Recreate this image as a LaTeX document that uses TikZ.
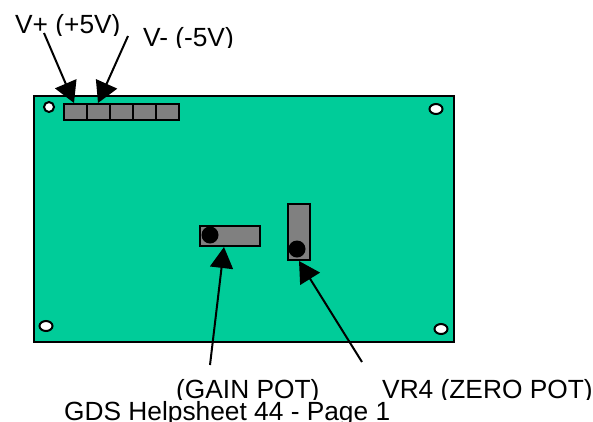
\documentclass[tikz,border=0pt]{standalone}
\usepackage{fontspec}
\setmainfont{Liberation Sans}
\usetikzlibrary{arrows.meta,shapes.geometric}
\definecolor{board}{RGB}{0,204,153}
\definecolor{potgray}{RGB}{128,128,128}
\tikzset{
  x=1pt,y=-1pt,
  outline/.style={draw=black,line width=2pt},
  boardbox/.style={outline,fill=board,minimum width=420pt,minimum height=246pt,inner sep=0pt},
  cell/.style={outline,fill=potgray,minimum width=23pt,minimum height=16pt,inner sep=0pt},
  potbox/.style={outline,fill=potgray,inner sep=0pt},
  wiper/.style={fill=black,circle,minimum size=17pt,inner sep=0pt},
  hole/.style={outline,fill=white,ellipse,inner sep=0pt},
  lbl/.style={anchor=base west,inner sep=0pt,font=\fontsize{26.3pt}{28pt}\selectfont},
  pointer/.style={line width=2pt,-{Triangle[length=21pt,width=23pt]},shorten >=0pt}
}
\begin{document}
\begin{tikzpicture}
\useasboundingbox (0,0) rectangle (593,421);
\node[boardbox] (pcb) at (244,219) {};
\node[hole,minimum width=10pt,minimum height=10pt] (h1) at (49,107) {};
\node[hole,minimum width=13pt,minimum height=10pt] (h2) at (436,109) {};
\node[hole,minimum width=13pt,minimum height=10pt] (h3) at (46,326) {};
\node[hole,minimum width=13pt,minimum height=10pt] (h4) at (441,329) {};
\foreach \i/\cx in {1/75.5,2/98.5,3/121,4/144,5/167}{
  \node[cell] (c\i) at (\cx,112) {};
}
\node[potbox,minimum width=60pt,minimum height=20pt] (gain) at (230,236) {};
\node[wiper] (gw) at (210,235) {};
\node[potbox,minimum width=22pt,minimum height=56pt] (zero) at (299,232) {};
\node[wiper] (zw) at (297,249) {};
\begin{scope}
\clip (0,0) rectangle (593,35);
\node[lbl] (vp) at (15,33.5) {V+ (+5V)};
\end{scope}
\begin{scope}
\clip (0,0) rectangle (593,47.5);
\node[lbl] (vm) at (143,46.8) {V- (-5V)};
\end{scope}
\begin{scope}
\clip (0,360) rectangle (593,399);
\node[lbl] (gl) at (176,398) {(GAIN POT)};
\node[lbl] (zl) at (382,398) {VR4 (ZERO POT)};
\end{scope}
\begin{scope}
\clip (0,380) rectangle (593,421);
\node[lbl] (pg) at (64,420) {GDS Helpsheet 44 - Page 1};
\end{scope}
\coordinate (vpS) at (44,33);
\coordinate (vmS) at (128,36);
\coordinate (gS) at (210,365);
\coordinate (zS) at (362,362);
\draw[pointer] (vpS) -- ([xshift=-1.5pt]c1.north);
\draw[pointer] (vmS) -- ([xshift=-0.5pt]c2.north);
\draw[pointer] (gS) -- ([xshift=-6pt]gain.south);
\draw[pointer] (zS) -- (zero.south);
\end{tikzpicture}
\end{document}
